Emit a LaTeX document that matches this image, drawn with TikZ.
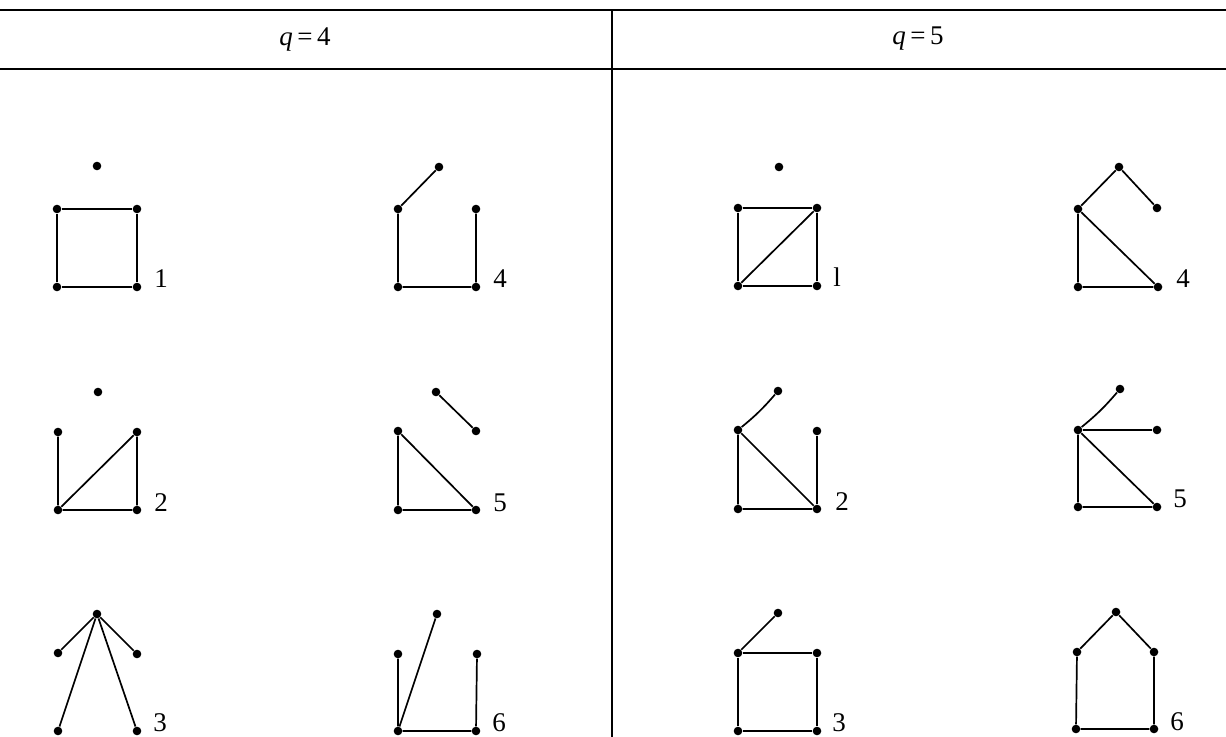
\documentclass[tikz,border=0pt]{standalone}
\usepackage{fontspec}
\setmainfont{Liberation Serif}
\begin{document}
\begin{tikzpicture}[x=0.5pt,y=-0.5pt,
  vtx/.style={circle,fill=black,draw=none,inner sep=0pt,minimum size=4.3pt},
  edge/.style={line width=0.85pt,black},
  rule/.style={line width=0.9pt,black},
  lbl/.style={anchor=base west,inner sep=0pt,font=\fontsize{13.5}{15}\selectfont},
  head/.style={font=\fontsize{13.5}{15}\selectfont}]
\useasboundingbox (0,0) rectangle (1226,737);
% table rules
\coordinate (hl1) at (0,10);   \coordinate (hr1) at (1226,10);
\coordinate (hl2) at (0,69);   \coordinate (hr2) at (1226,69);
\coordinate (vt) at (612,10);  \coordinate (vb) at (612,737);
\draw[rule] (hl1) -- (hr1);
\draw[rule] (hl2) -- (hr2);
\draw[line width=0.6pt] (vt) -- (vb);
\node[head] (h4) at (305,39) {\textit{q}\,=\,4};
\node[head] (h5) at (918,39) {\textit{q}\,=\,5};

% ---------- q = 4 ----------
% graph 1
\node[vtx] (a1) at (97,166) {};
\node[vtx] (a2) at (57,209) {};
\node[vtx] (a3) at (137,209) {};
\node[vtx] (a4) at (57,287) {};
\node[vtx] (a5) at (137,287) {};
\draw[edge] (a2) -- (a3) -- (a5) -- (a4) -- (a2);
\node[lbl] (la) at (154,288) {1};
% graph 4
\node[vtx] (b1) at (439,167) {};
\node[vtx] (b2) at (398,209) {};
\node[vtx] (b3) at (476,209) {};
\node[vtx] (b4) at (398,287) {};
\node[vtx] (b5) at (476,287) {};
\draw[edge] (b1) -- (b2) -- (b4) -- (b5) -- (b3);
\node[lbl] (lb) at (493,288) {4};
% graph 2
\node[vtx] (c1) at (98,392) {};
\node[vtx] (c2) at (58,432) {};
\node[vtx] (c3) at (137,432) {};
\node[vtx] (c4) at (58,510) {};
\node[vtx] (c5) at (137,510) {};
\draw[edge] (c2) -- (c4) -- (c5) -- (c3) -- (c4);
\node[lbl] (lc) at (154,511) {2};
% graph 5
\node[vtx] (d1) at (436,392) {};
\node[vtx] (d2) at (476,431) {};
\node[vtx] (d3) at (398,431) {};
\node[vtx] (d4) at (398,510) {};
\node[vtx] (d5) at (476,510) {};
\draw[edge] (d1) -- (d2);
\draw[edge] (d3) -- (d4) -- (d5) -- (d3);
\node[lbl] (ld) at (493,511) {5};
% graph 3
\node[vtx] (e1) at (97,614) {};
\node[vtx] (e2) at (58,653) {};
\node[vtx] (e3) at (137,654) {};
\node[vtx] (e4) at (58,731) {};
\node[vtx] (e5) at (137,731) {};
\draw[edge] (e1) -- (e2);
\draw[edge] (e1) -- (e3);
\draw[edge] (e1) -- (e4);
\draw[edge] (e1) -- (e5);
\node[lbl] (le) at (153,731) {3};
% graph 6
\node[vtx] (f1) at (437,614) {};
\node[vtx] (f2) at (398,654) {};
\node[vtx] (f3) at (477,654) {};
\node[vtx] (f4) at (398,731) {};
\node[vtx] (f5) at (476,731) {};
\draw[edge] (f1) -- (f4) -- (f2);
\draw[edge] (f4) -- (f5) -- (f3);
\node[lbl] (lf) at (492,731) {6};

% ---------- q = 5 ----------
% graph 1
\node[vtx] (g1) at (779,167) {};
\node[vtx] (g2) at (738,208) {};
\node[vtx] (g3) at (817,208) {};
\node[vtx] (g4) at (738,286) {};
\node[vtx] (g5) at (817,286) {};
\draw[edge] (g2) -- (g3) -- (g5) -- (g4) -- (g2);
\draw[edge] (g4) -- (g3);
\node[lbl] (lg) at (833,287) {l};
% graph 4
\node[vtx] (k1) at (1119,167) {};
\node[vtx] (k2) at (1157,208) {};
\node[vtx] (k3) at (1078,209) {};
\node[vtx] (k4) at (1078,287) {};
\node[vtx] (k5) at (1158,287) {};
\draw[edge] (k2) -- (k1) -- (k3) -- (k4) -- (k5) -- (k3);
\node[lbl] (lk) at (1176,288) {4};
% graph 2
\node[vtx] (m1) at (778,391) {};
\node[vtx] (m2) at (738,430) {};
\node[vtx] (m3) at (817,431) {};
\node[vtx] (m4) at (738,509) {};
\node[vtx] (m5) at (817,509) {};
\draw[edge] (m1) to[bend left=5] (m2);
\draw[edge] (m2) -- (m4) -- (m5) -- (m2);
\draw[edge] (m5) -- (m3);
\node[lbl] (lm) at (835,510) {2};
% graph 5
\node[vtx] (n1) at (1120,389) {};
\node[vtx] (n2) at (1157,430) {};
\node[vtx] (n3) at (1078,430) {};
\node[vtx] (n4) at (1078,507) {};
\node[vtx] (n5) at (1157,507) {};
\draw[edge] (n1) to[bend left=5] (n3);
\draw[edge] (n3) -- (n2);
\draw[edge] (n3) -- (n4) -- (n5) -- (n3);
\node[lbl] (ln) at (1173,508) {5};
% graph 3
\node[vtx] (r1) at (778,613) {};
\node[vtx] (r2) at (738,653) {};
\node[vtx] (r3) at (817,653) {};
\node[vtx] (r4) at (738,731) {};
\node[vtx] (r5) at (817,731) {};
\draw[edge] (r1) -- (r2);
\draw[edge] (r2) -- (r3) -- (r5) -- (r4) -- (r2);
\node[lbl] (lr) at (832,731) {3};
% graph 6
\node[vtx] (s1) at (1116,612) {};
\node[vtx] (s2) at (1077,652) {};
\node[vtx] (s3) at (1154,652) {};
\node[vtx] (s4) at (1076,729) {};
\node[vtx] (s5) at (1154,729) {};
\draw[edge] (s2) -- (s1) -- (s3) -- (s5) -- (s4) -- (s2);
\node[lbl] (ls) at (1170,730) {6};
\end{tikzpicture}
\end{document}
